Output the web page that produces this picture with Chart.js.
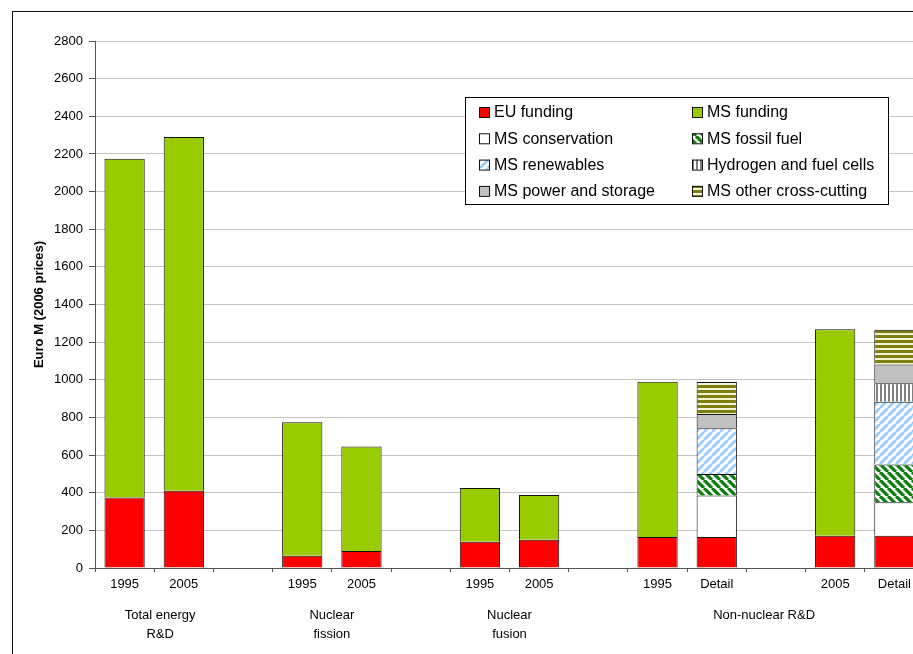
<!DOCTYPE html>
<html>
<head>
<meta charset="utf-8">
<script src="https://cdn.jsdelivr.net/npm/chart.js@4/dist/chart.umd.min.js"></script>
<style>
  html, body { margin: 0; padding: 0; background: #fff; overflow: hidden; }
  #frame { position: absolute; left: 12px; top: 11px; width: 1100px; height: 900px; border: 1px solid #111; }
  #c { position: absolute; left: 0; top: 0; }
</style>
</head>
<body>
<div id="frame"></div>
<canvas id="c" width="960" height="654"></canvas>
<script>
// slots along the x axis (empty strings are gaps between groups)
var slots = ['1995', '2005', '', '1995', '2005', '', '1995', '2005', '', '1995', 'Detail', '', '2005', 'Detail'];
var groupNames = [['Total energy', 'R&D'], ['Nuclear', 'fission'], ['Nuclear', 'fusion'], ['Non-nuclear R&D']];

var euFunding    = [375, 410, null, 65, 90, null, 140, 150, null, 165, 165, null, 172, 172];
var msFunding    = [1800, 1880, null, 710, 555, null, 285, 238, null, 825, null, null, 1096, null];
var msConserv    = [null, null, null, null, null, null, null, null, null, null, 220, null, null, 178];
var msFossil     = [null, null, null, null, null, null, null, null, null, null, 115, null, null, 200];
var msRenew      = [null, null, null, null, null, null, null, null, null, null, 243, null, null, 333];
var hydrogen     = [null, null, null, null, null, null, null, null, null, null, null, null, null, 98];
var msPower      = [null, null, null, null, null, null, null, null, null, null, 75, null, null, 100];
var msOther      = [null, null, null, null, null, null, null, null, null, null, 170, null, null, 185];

var yTicks = [0, 200, 400, 600, 800, 1000, 1200, 1400, 1600, 1800, 2000, 2200, 2400, 2600, 2800];

function stripes(bg, fg, size, width, dir) {
  var c = document.createElement('canvas');
  c.width = size; c.height = size;
  var g = c.getContext('2d');
  g.fillStyle = bg;
  g.fillRect(0, 0, size, size);
  g.fillStyle = fg;
  g.strokeStyle = fg;
  g.lineWidth = width;
  if (dir === 'h') {
    g.fillRect(0, 0, size, width);
  } else if (dir === 'v') {
    g.fillRect(0, 0, width, size);
  } else {
    g.beginPath();
    [-1, 0, 1].forEach(function (k) {
      if (dir === '\\') { g.moveTo(k * size, 0); g.lineTo(k * size + size, size); }
      else { g.moveTo(k * size, size); g.lineTo(k * size + size, 0); }
    });
    g.stroke();
  }
  return g.createPattern(c, 'repeat');
}

var font = "'Liberation Sans', Arial, sans-serif";
Chart.defaults.font.family = font;
Chart.defaults.color = '#000';

function ds(label, data, fill) {
  return { label: label, data: data, backgroundColor: fill, borderColor: '#111', borderWidth: 1,
           barPercentage: 0.68, categoryPercentage: 1 };
}

var boxLegend = {
  id: 'boxLegend',
  afterDraw: function (chart) {
    var ctx = chart.ctx;
    var x0 = 465, y0 = 97, w = 423, h = 107;
    ctx.save();
    ctx.fillStyle = '#fff';
    ctx.fillRect(x0, y0, w, h);
    ctx.strokeStyle = '#000';
    ctx.lineWidth = 1;
    ctx.strokeRect(x0 + 0.5, y0 + 0.5, w, h);
    ctx.font = '16px ' + font;
    ctx.textBaseline = 'middle';
    chart.data.datasets.forEach(function (d, i) {
      var col = i % 2, row = Math.floor(i / 2);
      var sx = col ? 692 : 479;
      var cy = 112 + row * 26.3;
      ctx.fillStyle = d.backgroundColor;
      ctx.fillRect(sx, cy - 5, 10, 10);
      ctx.strokeStyle = '#111';
      ctx.strokeRect(sx + 0.5, cy - 4.5, 10, 10);
      ctx.fillStyle = '#000';
      ctx.fillText(d.label, sx + 15, cy + 1);
    });
    ctx.restore();
  }
};

var groupLabels = {
  id: 'groupLabels',
  afterDraw: function (chart, args, opts) {
    var ctx = chart.ctx, xs = chart.scales.x;
    ctx.save();
    ctx.font = '13px ' + font;
    ctx.fillStyle = '#000';
    ctx.textAlign = 'center';
    ctx.textBaseline = 'middle';
    groupNames.forEach(function (lines, i) {
      var x = xs.getPixelForValue(opts.centers[i]);
      lines.forEach(function (t, j) { ctx.fillText(t, x, 615 + j * 19); });
    });
    ctx.restore();
  }
};

new Chart(document.getElementById('c').getContext('2d'), {
  type: 'bar',
  data: {
    labels: slots,
    datasets: [
      ds('EU funding', euFunding, '#ff0000'),
      ds('MS funding', msFunding, '#99cc00'),
      ds('MS conservation', msConserv, '#ffffff'),
      ds('MS fossil fuel', msFossil, stripes('#ffffff', '#0b7d0b', 8, 3.2, '\\')),
      ds('MS renewables', msRenew, stripes('#ffffff', '#99ccff', 8, 2.8, '/')),
      ds('Hydrogen and fuel cells', hydrogen, stripes('#ffffff', '#808080', 4, 2, 'v')),
      ds('MS power and storage', msPower, '#c0c0c0'),
      ds('MS other cross-cutting', msOther, stripes('#f4f4d8', '#7f7f10', 5, 3, 'h'))
    ]
  },
  options: {
    responsive: false,
    animation: false,
    layout: { padding: { top: 41, right: 36, left: 0, bottom: 0 } },
    plugins: {
      legend: { display: false },
      tooltip: { enabled: false },
      groupLabels: { centers: [0.6, 3.5, 6.5, 10.8] }
    },
    scales: {
      x: {
        stacked: true,
        grid: { offset: true, drawOnChartArea: false, tickLength: 4, color: '#555' },
        border: { color: '#555' },
        ticks: { font: { size: 13 }, padding: 5, maxRotation: 0, autoSkip: false },
        afterFit: function (s) { s.height = 86; }
      },
      y: {
        stacked: true,
        min: 0,
        max: 2800,
        afterBuildTicks: function (s) { s.ticks = yTicks.map(function (v) { return { value: v }; }); },
        grid: { color: '#c4c4c4', tickLength: 6, tickColor: '#555' },
        border: { color: '#555' },
        ticks: { font: { size: 13 }, padding: 6, callback: function (v) { return String(v); } },
        title: { display: true, text: 'Euro M (2006 prices)', font: { size: 13, weight: 'bold' }, padding: { top: 32 } },
        afterFit: function (s) { s.width = 95; }
      }
    }
  },
  plugins: [boxLegend, groupLabels]
});
</script>
</body>
</html>
